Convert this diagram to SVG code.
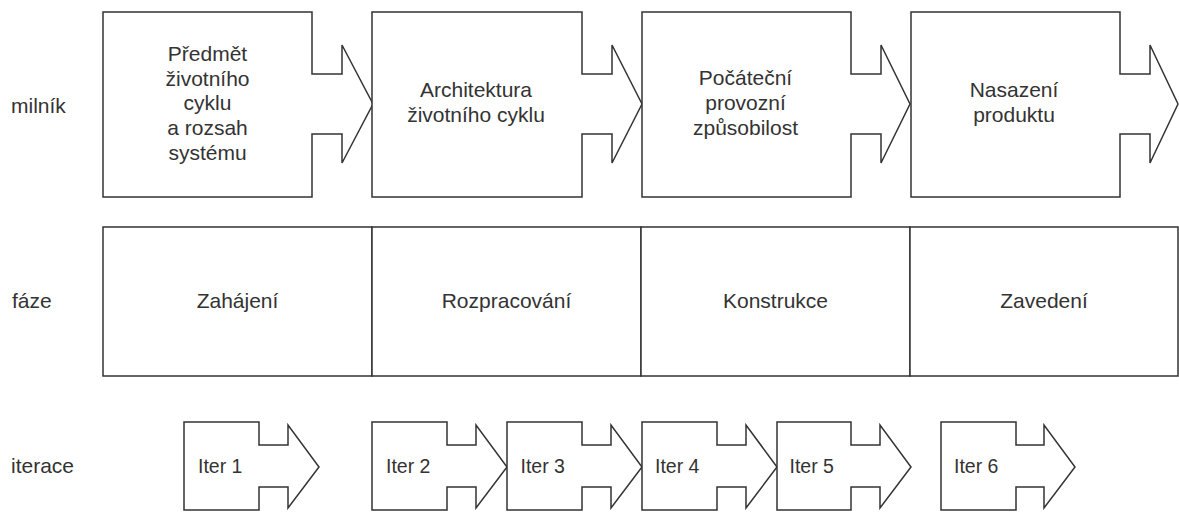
<svg xmlns="http://www.w3.org/2000/svg" width="1179" height="512" viewBox="0 0 1179 512">
<style>
.s{fill:#fff;stroke:#333;stroke-width:1.5;stroke-linejoin:miter}
.t{font-family:"Liberation Sans",Arial,sans-serif;font-size:21px;fill:#333}
.c{text-anchor:middle}
.i{font-family:"Liberation Sans",Arial,sans-serif;font-size:19.5px;fill:#333}
</style>
<rect width="1179" height="512" fill="#fff"/>
<g id="labels">
<text class="t" x="11" y="113">milník</text>
<text class="t" x="12" y="308">fáze</text>
<text class="t" x="11" y="473">iterace</text>
</g>
<g id="m1">
<path class="s" d="M103,12 H312 V74 H342 V45 L373,104 L342,163 V134 H312 V197 H103 Z"/>
<text class="t c" x="207.5" y="61">Předmět</text>
<text class="t c" x="207.5" y="86">životního</text>
<text class="t c" x="207.5" y="110">cyklu</text>
<text class="t c" x="207.5" y="135">a rozsah</text>
<text class="t c" x="207.5" y="160">systému</text>
</g>
<g id="m2">
<path class="s" d="M372,12 H582 V74 H612 V45 L642,104 L612,163 V134 H582 V197 H372 Z"/>
<text class="t c" x="476" y="97">Architektura</text>
<text class="t c" x="476" y="122">životního cyklu</text>
</g>
<g id="m3">
<path class="s" d="M642,12 H851 V74 H881 V45 L910,104 L881,163 V134 H851 V197 H642 Z"/>
<text class="t c" x="745.5" y="85">Počáteční</text>
<text class="t c" x="745.5" y="110">provozní</text>
<text class="t c" x="745.5" y="135">způsobilost</text>
</g>
<g id="m4">
<path class="s" d="M911,12 H1120 V74 H1150 V45 L1178,104 L1150,163 V134 H1120 V197 H911 Z"/>
<text class="t c" x="1014" y="97">Nasazení</text>
<text class="t c" x="1014" y="122">produktu</text>
</g>
<g id="p1">
<rect class="s" x="103" y="227" width="269" height="149"/>
<text class="t c" x="237.5" y="308">Zahájení</text>
</g>
<g id="p2">
<rect class="s" x="372" y="227" width="269" height="149"/>
<text class="t c" x="506.5" y="308">Rozpracování</text>
</g>
<g id="p3">
<rect class="s" x="641" y="227" width="269" height="149"/>
<text class="t c" x="775.5" y="308">Konstrukce</text>
</g>
<g id="p4">
<rect class="s" x="910" y="227" width="268" height="149"/>
<text class="t c" x="1044" y="308">Zavedení</text>
</g>
<g id="i1">
<path class="s" d="M184,422 H259 V445 H288 V425 L319,467 L288,508 V487 H259 V510 H184 Z"/>
<text class="i" x="198" y="473">Iter 1</text>
</g>
<g id="i2">
<path class="s" d="M372,422 H447 V445 H476 V425 L507,467 L476,508 V487 H447 V510 H372 Z"/>
<text class="i" x="386" y="473">Iter 2</text>
</g>
<g id="i3">
<path class="s" d="M507,422 H582 V445 H611 V425 L642,467 L611,508 V487 H582 V510 H507 Z"/>
<text class="i" x="520.5" y="473">Iter 3</text>
</g>
<g id="i4">
<path class="s" d="M642,422 H717 V445 H746 V425 L777,467 L746,508 V487 H717 V510 H642 Z"/>
<text class="i" x="655" y="473">Iter 4</text>
</g>
<g id="i5">
<path class="s" d="M777,422 H851 V445 H880 V425 L911,467 L880,508 V487 H851 V510 H777 Z"/>
<text class="i" x="789.5" y="473">Iter 5</text>
</g>
<g id="i6">
<path class="s" d="M941,422 H1016 V445 H1044 V425 L1075,467 L1044,508 V487 H1016 V510 H941 Z"/>
<text class="i" x="954" y="473">Iter 6</text>
</g>
<g id="connectors"/>
</svg>
